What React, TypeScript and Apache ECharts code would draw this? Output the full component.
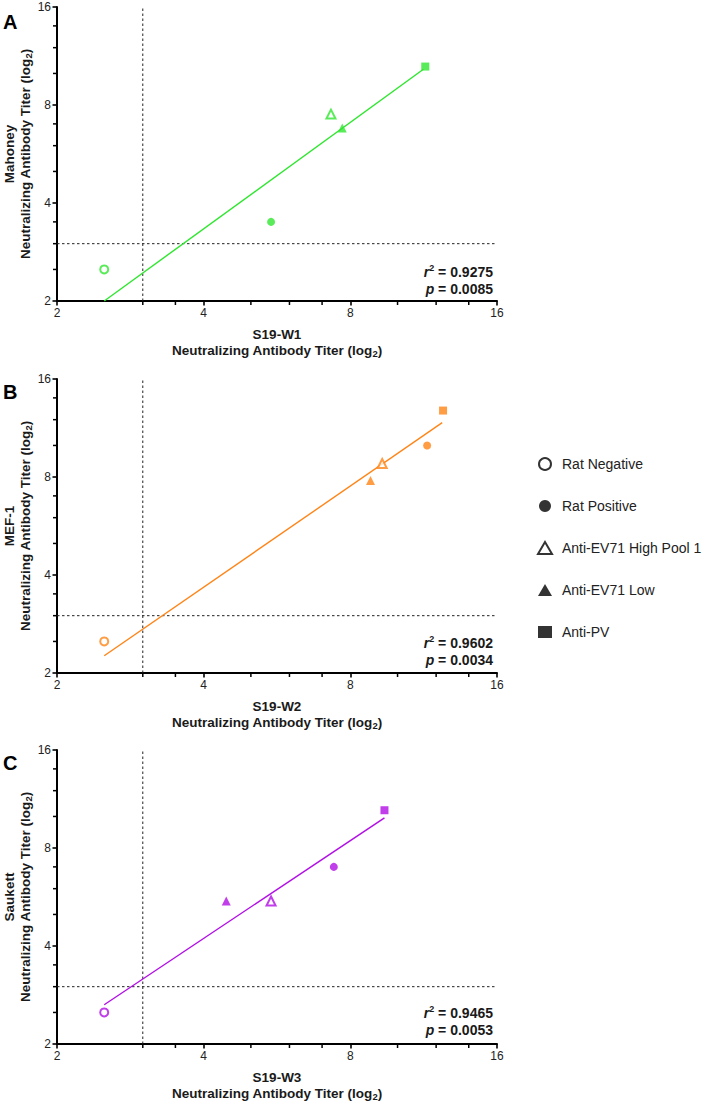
import React, { useEffect, useRef } from 'react';
import * as echarts from 'echarts';

const FONT = 'Arial, "Liberation Sans", Helvetica, sans-serif';

// Legend groups
const groups = ['Rat Negative', 'Rat Positive', 'Anti-EV71 High Pool 1', 'Anti-EV71 Low', 'Anti-PV'];
const groupSymbols = ['emptyCircle', 'circle', 'emptyTriangle', 'triangle', 'rect'];
const groupSizes = [8, 8, 9, 9, 8];

// Panels
const panelLetters = ['A', 'B', 'C'];
const strains = ['Mahoney', 'MEF-1', 'Saukett'];
const sera = ['S19-W1', 'S19-W2', 'S19-W3'];
const colors = ['#2fe62f', '#ff8417', '#b10ee6'];
const r2Values = ['0.9275', '0.9602', '0.9465'];
const pValues = ['0.0085', '0.0034', '0.0053'];

// Titers (x = S19 titer, y = strain titer), in group order
const panelA_x = [2.5, 5.5, 7.3, 7.7, 11.4];
const panelA_y = [2.5, 3.5, 7.5, 6.8, 10.5];
const panelB_x = [2.5, 11.5, 9.3, 8.8, 12.4];
const panelB_y = [2.5, 10.0, 8.8, 7.8, 12.8];
const panelC_x = [2.5, 7.4, 5.5, 4.45, 9.4];
const panelC_y = [2.5, 7.0, 5.5, 5.5, 10.45];

// Regression line end points
const fitA_x = [2.5, 11.3];
const fitA_y = [2.0, 10.3];
const fitB_x = [2.5, 12.35];
const fitB_y = [2.26, 11.75];
const fitC_x = [2.5, 9.4];
const fitC_y = [2.64, 9.9];

// Axis
const axisMin = 2;
const axisMax = 16;
const minorTicksX = [3, 3.5, 5, 6, 7, 10, 12, 14];
const minorTicksY = [2.5, 3, 3.5, 5, 6, 7, 10, 12, 14];
const threshold = 3;

const panelsX = [panelA_x, panelB_x, panelC_x];
const panelsY = [panelA_y, panelB_y, panelC_y];
const fitsX = [fitA_x, fitB_x, fitC_x];
const fitsY = [fitA_y, fitB_y, fitC_y];

// layout
const gridTops = [7, 379, 750];
const gridLeft = 57;
const gridWidth = 440;
const gridHeight = 294;
const statY = [280.2, 651.3, 1021.7];
const letterY = [21.7, 391.7, 762.5];
const MAJOR_LEN = 4.5;
const MINOR_LEN = 3;

const TXT = '#1a1a1a';

function baseGraphic() {
  const statRich = {
    i: { fontFamily: FONT, fontSize: 14, fontWeight: 'bold', fontStyle: 'italic', fill: TXT, lineHeight: 17 },
    b: { fontFamily: FONT, fontSize: 14, fontWeight: 'bold', fill: TXT, lineHeight: 17 },
    sup: { fontFamily: FONT, fontSize: 9, fontWeight: 'bold', fill: TXT, lineHeight: 9, verticalAlign: 'top' },
  };
  const graphic: any[] = [];
  for (let i = 0; i < 3; i++) {
    graphic.push({
      type: 'text', x: 3, y: letterY[i],
      style: { text: panelLetters[i], fontFamily: FONT, fontSize: 20, fontWeight: 'bold', fill: '#000', verticalAlign: 'middle', align: 'left' },
    });
    graphic.push({
      type: 'text', x: gridLeft + gridWidth - 4, y: statY[i],
      style: {
        text: `{i|r}{sup|2}{b| = ${r2Values[i]}}\n{i|p}{b| = ${pValues[i]}}`,
        rich: statRich, align: 'right', verticalAlign: 'middle',
        fontFamily: FONT, fontSize: 14, fontWeight: 'bold', fill: TXT, lineHeight: 17,
      },
    });
  }
  return graphic;
}

function buildOption() {
  const grid = gridTops.map((t) => ({
    left: gridLeft, top: t, width: gridWidth, height: gridHeight,
    containLabel: false, outerBoundsMode: 'none',
  }));

  const nameRich = {
    t: { fontFamily: FONT, fontSize: 13.5, fontWeight: 'bold', color: TXT, lineHeight: 16 },
    s: { fontFamily: FONT, fontSize: 9.5, fontWeight: 'bold', color: TXT, lineHeight: 7, verticalAlign: 'bottom' },
  };

  const mkAxis = (i: number) => ({
    type: 'log',
    logBase: 2,
    min: axisMin,
    max: axisMax,
    gridIndex: i,
    splitLine: { show: false },
    axisLine: { show: true, onZero: false, lineStyle: { color: '#000', width: 2 } },
    axisTick: { show: true, length: MAJOR_LEN, lineStyle: { color: '#000', width: 1.6 } },
    axisLabel: { fontFamily: FONT, fontSize: 12, color: '#222', margin: 6, showMinLabel: true, showMaxLabel: true },
    nameLocation: 'middle',
    nameMoveOverlap: false,
    nameTextStyle: { fontFamily: FONT, fontSize: 13.5, fontWeight: 'bold', color: TXT, lineHeight: 16, rich: nameRich },
  });

  const xAxis = sera.map((s, i) => ({
    ...mkAxis(i),
    name: `{t|${s}}\n{t|Neutralizing Antibody Titer (log}{s|2}{t|)}`,
    nameGap: 25,
  }));
  const yAxis = strains.map((s, i) => ({
    ...mkAxis(i),
    name: `{t|${s}}\n{t|Neutralizing Antibody Titer (log}{s|2}{t|)}`,
    nameGap: 24,
    nameRotate: 90,
  }));

  const series: any[] = [];
  // legend entries (black icons)
  groups.forEach((g, k) => {
    series.push({
      type: 'scatter', name: g, xAxisIndex: 0, yAxisIndex: 0, data: [],
      symbol: groupSymbols[k],
      itemStyle: { color: '#000', borderColor: '#000', borderWidth: groupSymbols[k].startsWith('empty') ? 1.3 : 0 },
    });
  });

  for (let i = 0; i < 3; i++) {
    series.push({
      type: 'line', xAxisIndex: i, yAxisIndex: i, silent: true, symbol: 'none', z: 1,
      data: [[threshold, axisMin], [threshold, axisMax]],
      lineStyle: { color: '#222', width: 1, type: [2.5, 2.5] },
    });
    series.push({
      type: 'line', xAxisIndex: i, yAxisIndex: i, silent: true, symbol: 'none', z: 1,
      data: [[axisMin, threshold], [axisMax, threshold]],
      lineStyle: { color: '#222', width: 1, type: [2.5, 2.5] },
    });
    series.push({
      type: 'line', xAxisIndex: i, yAxisIndex: i, silent: true, symbol: 'none', z: 2,
      data: fitsX[i].map((x, j) => [x, fitsY[i][j]]),
      lineStyle: { color: colors[i], width: 1.4 },
    });
    groups.forEach((g, k) => {
      const empty = groupSymbols[k].startsWith('empty');
      series.push({
        type: 'scatter', name: g, xAxisIndex: i, yAxisIndex: i, z: 3, clip: false,
        symbol: groupSymbols[k], symbolSize: groupSizes[k],
        data: [[panelsX[i][k], panelsY[i][k]]],
        itemStyle: { color: colors[i], borderColor: colors[i], borderWidth: empty ? 1.2 : 0 },
      });
    });
  }

  return {
    animation: false,
    grid,
    xAxis,
    yAxis,
    legend: {
      orient: 'vertical',
      left: 537,
      top: 457,
      padding: 0,
      itemWidth: 14,
      itemHeight: 12,
      itemGap: 28,
      selectedMode: false,
      textStyle: { fontFamily: FONT, fontSize: 14, color: '#222', padding: [0, 0, 0, 5] },
      data: groups.map((g, k) => ({ name: g, icon: groupSymbols[k] })),
    },
    series,
    graphic: baseGraphic(),
  };
}

export default function App() {
  const ref = useRef<HTMLDivElement>(null);
  useEffect(() => {
    if (!ref.current) return;
    const chart = echarts.init(ref.current, undefined, { renderer: 'svg' });
    chart.setOption(buildOption() as any);
    // minor ticks, positioned through the axes' own scales
    const extra: any[] = [];
    for (let i = 0; i < 3; i++) {
      minorTicksX.forEach((v) => {
        const p = chart.convertToPixel({ gridIndex: i } as any, [v, axisMin]) as number[];
        extra.push({ type: 'line', shape: { x1: p[0], y1: p[1], x2: p[0], y2: p[1] + MINOR_LEN + 1 }, style: { stroke: '#000', lineWidth: 1.5 } });
      });
      minorTicksY.forEach((v) => {
        const p = chart.convertToPixel({ gridIndex: i } as any, [axisMin, v]) as number[];
        extra.push({ type: 'line', shape: { x1: p[0], y1: p[1], x2: p[0] - MINOR_LEN - 1, y2: p[1] }, style: { stroke: '#000', lineWidth: 1.5 } });
      });
    }
    chart.setOption({ graphic: [...baseGraphic(), ...extra] } as any);
    return () => chart.dispose();
  }, []);
  return (
    <div
      ref={ref}
      style={{ position: 'absolute', left: 0, top: 0, width: 706, height: 1103, background: '#fff' }}
    />
  );
}
